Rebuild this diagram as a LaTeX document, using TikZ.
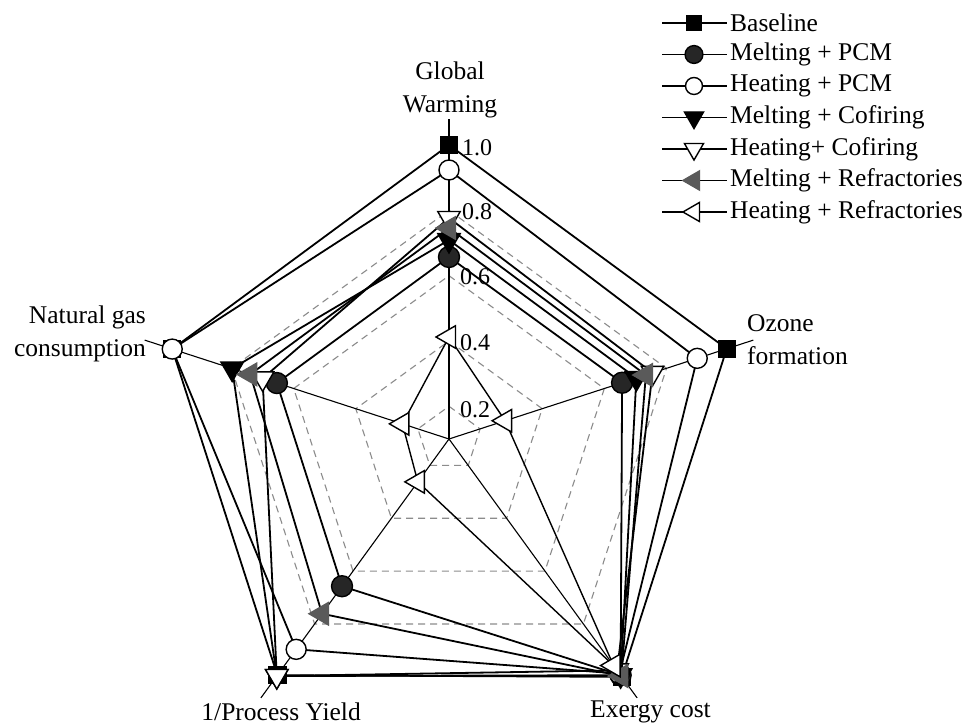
\documentclass[tikz,border=0pt]{standalone}
\usepackage{fontspec}
\setmainfont{Liberation Serif}
\usetikzlibrary{shapes.geometric}
\definecolor{mgray}{HTML}{5A5A5A}
\definecolor{gridgray}{HTML}{8C8C8C}
\newcommand\mkseries[6]{%
  \coordinate (#1a) at ([shift={(C)}]90:#2);
  \coordinate (#1b) at ([shift={(C)}]18:#3);
  \coordinate (#1c) at ([shift={(C)}]-54:#4);
  \coordinate (#1d) at ([shift={(C)}]-126:#5);
  \coordinate (#1e) at ([shift={(C)}]162:#6);
}
\newcommand\mkline[2][]{\draw[dataline,#1] (#2a) -- (#2b) -- (#2c) -- (#2d) -- (#2e) -- cycle;}
\newcommand\mkmarks[2]{\foreach \k in {a,b,c,d,e} {\node[#2] (#1m\k) at (#1\k) {};}}
\begin{document}
\begin{tikzpicture}[x=1pt,y=1pt,
  txt/.style={font=\fontsize{25.5}{33}\selectfont, inner sep=0pt},
  ticktxt/.style={font=\fontsize{24}{30}\selectfont, inner sep=0pt},
  gridline/.style={draw=gridgray, line width=1.1pt, dash pattern=on 7pt off 5pt},
  axisline/.style={draw=black, line width=1.1pt},
  dataline/.style={draw=black, line width=1.8pt, line join=miter},
  mk/.style={draw=black, line width=1.4pt, inner sep=0pt, outer sep=0pt},
  sqmk/.style={mk, rectangle, minimum size=17pt, fill=black},
  dotmk/.style={mk, circle, minimum size=21pt, fill=black!85},
  ocmk/.style={mk, circle, minimum size=20pt, fill=white},
  dtrimk/.style={mk, regular polygon, regular polygon sides=3, shape border rotate=180, minimum size=26pt, fill=black},
  otrimk/.style={mk, regular polygon, regular polygon sides=3, shape border rotate=180, minimum size=26pt, fill=white},
  ltrimk/.style={mk, draw=mgray, regular polygon, regular polygon sides=3, shape border rotate=90, minimum size=26pt, fill=mgray},
  oltrimk/.style={mk, regular polygon, regular polygon sides=3, shape border rotate=90, minimum size=26pt, fill=white},
  lgline/.style={draw=black, line width=1.8pt}
]
\useasboundingbox (0,0) rectangle (967,727);
\fill[white] (0,0) rectangle (967,727);
\coordinate (C) at (449,288);

% grid
\foreach \r in {32.7,98,163.3,228.7}
  \draw[gridline] ([shift={(C)}]90:\r) -- ([shift={(C)}]18:\r) -- ([shift={(C)}]-54:\r) -- ([shift={(C)}]-126:\r) -- ([shift={(C)}]162:\r) -- cycle;

% axes
\foreach \a/\n in {90/a,18/b,-54/c,-126/d,162/e}
  \draw[axisline] (C) -- ([shift={(C)}]\a:320) coordinate (ax\n);

% tick labels
\node[ticktxt, anchor=west] (t10) at (462,579) {1.0};
\node[ticktxt, anchor=west] (t08) at (462,515) {0.8};
\node[ticktxt, anchor=west] (t06) at (460,450) {0.6};
\node[ticktxt, anchor=west] (t04) at (460,384) {0.4};
\node[ticktxt, anchor=west] (t02) at (460,317) {0.2};

% axis labels
\node[txt, align=center] (lgw) at (450,637) {Global\\Warming};
\node[txt, align=left, anchor=west] (loz) at (747,387) {Ozone\\formation};
\node[txt, align=right, anchor=east] (lng) at (146,393) {Natural gas\\consumption};
\node[txt, anchor=east] (lpy) at (361,15) {1/Process Yield};
\node[txt, anchor=west] (lex) at (590,15) {Exergy cost};

% data (radii in px)
\mkseries{B}{294}{292}{294}{292}{291}
\mkseries{MP}{182}{182}{292}{182}{181}
\mkseries{HP}{269}{261}{290}{260}{291}
\mkseries{MC}{199}{197}{292}{293}{228}
\mkseries{HC}{221}{214}{286}{293}{196}
\mkseries{MR}{211}{207}{293}{216}{209}
\mkseries{HR}{102}{59}{280}{53}{49}

\mkline{B}\mkmarks{B}{sqmk}
\mkline{MP}\mkmarks{MP}{dotmk}
\mkline{HP}\mkmarks{HP}{ocmk}
\mkline{MC}\mkmarks{MC}{dtrimk}
\mkline{HC}\mkmarks{HC}{otrimk}
\mkline{MR}\mkmarks{MR}{ltrimk}
\mkline[line width=1.4pt]{HR}\mkmarks{HR}{oltrimk}

% legend
\foreach \i/\s/\t [count=\n] in {
  0/sqmk/Baseline,
  1/dotmk/Melting + PCM,
  2/ocmk/Heating + PCM,
  3/dtrimk/Melting + Cofiring,
  4/otrimk/Heating+ Cofiring,
  5/ltrimk/Melting + Refractories,
  6/oltrimk/Heating + Refractories}
{
  \coordinate (lgl\n) at (662,704-31.5*\i);
  \coordinate (lgr\n) at (727,704-31.5*\i);
  \draw[lgline] (lgl\n) -- (lgr\n);
  \node[\s, scale=0.85] (lgm\n) at (694,704-31.5*\i) {};
  \node[txt, anchor=west] (lgt\n) at (730,704-31.5*\i) {\t};
}
\end{tikzpicture}
\end{document}
